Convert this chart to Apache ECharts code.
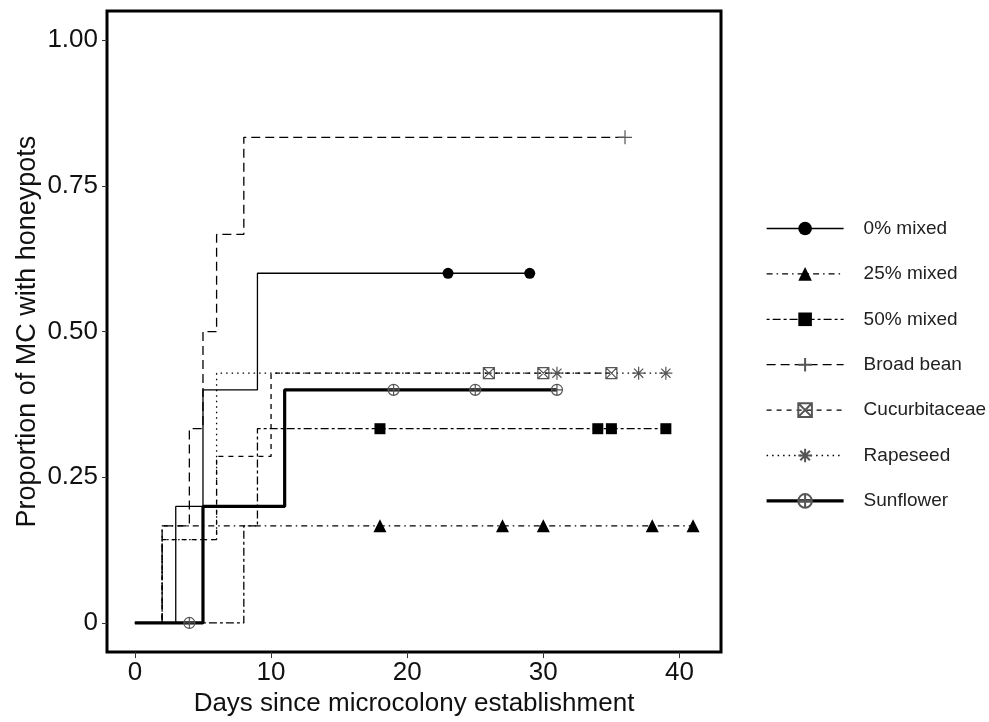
<!DOCTYPE html>
<html>
<head>
<meta charset="utf-8">
<script src="https://cdn.jsdelivr.net/npm/echarts@6/dist/echarts.min.js"></script>
<style>
  html, body { margin: 0; padding: 0; background: #fff; }
  #chartMain { width: 989px; height: 722px; }
</style>
</head>
<body>
<div id="chartMain"></div>
<script>
// step curves: day of each event and proportion after it, censor days
var groupNames = ['0% mixed', '25% mixed', '50% mixed', 'Broad bean', 'Cucurbitaceae', 'Rapeseed', 'Sunflower'];

var mix0Days = [0, 3, 5, 9, 29];
var mix0Prop = [0, 0.2, 0.4, 0.6, 0.6];
var mix0Cens = [23, 29];

var mix25Days = [0, 2, 41];
var mix25Prop = [0, 0.1667, 0.1667];
var mix25Cens = [18, 27, 30, 38, 41];

var mix50Days = [0, 8, 9, 39];
var mix50Prop = [0, 0.1667, 0.3333, 0.3333];
var mix50Cens = [18, 34, 35, 39];

var beanDays = [0, 2, 4, 5, 6, 8, 36];
var beanProp = [0, 0.1667, 0.3333, 0.5, 0.6667, 0.8333, 0.8333];
var beanCens = [36];

var cucDays = [0, 2, 6, 10, 35];
var cucProp = [0, 0.1429, 0.2857, 0.4286, 0.4286];
var cucCens = [26, 30, 35];

var rapeDays = [0, 2, 6, 39];
var rapeProp = [0, 0.1429, 0.4286, 0.4286];
var rapeCens = [31, 37, 39];

var sunDays = [0, 5, 11, 31];
var sunProp = [0, 0.2, 0.4, 0.4];
var sunCens = [4, 19, 25, 31];

var xTicks = [0, 10, 20, 30, 40];
var yTicks = [0, 0.25, 0.5, 0.75, 1];

var PLUS = 'path://M6,0 L6,12 M0,6 L12,6';
var BOXX = 'path://M0,0 L12,0 L12,12 L0,12 Z M0,0 L12,12 M12,0 L0,12';
var STAR = 'path://M6,0 L6,12 M0,6 L12,6 M1.76,1.76 L10.24,10.24 M10.24,1.76 L1.76,10.24';
var OPLUS = 'path://M0,6 A6,6 0 1,1 12,6 A6,6 0 1,1 0,6 Z M6,0 L6,12 M0,6 L12,6';

var NOFILL = 'rgba(0,0,0,0)';

var groups = [
  {days: mix0Days, prop: mix0Prop, cens: mix0Cens, width: 1.3, dash: 'solid',
   symbol: 'circle', size: 11, item: {color: '#000', opacity: 1}},
  {days: mix25Days, prop: mix25Prop, cens: mix25Cens, width: 1.3, dash: [6, 4, 1.5, 4],
   symbol: 'triangle', size: 13, item: {color: '#000', opacity: 1}},
  {days: mix50Days, prop: mix50Prop, cens: mix50Cens, width: 1.3, dash: [3, 3, 8, 3],
   symbol: 'rect', size: 11, item: {color: '#000', opacity: 1}},
  {days: beanDays, prop: beanProp, cens: beanCens, width: 1.3, dash: [9, 5],
   symbol: PLUS, size: 14, item: {color: NOFILL, borderColor: '#555', borderWidth: 1.2, opacity: 1}},
  {days: cucDays, prop: cucProp, cens: cucCens, width: 1.3, dash: [5, 5],
   symbol: BOXX, size: 11, item: {color: NOFILL, borderColor: '#555', borderWidth: 1.2, opacity: 1}},
  {days: rapeDays, prop: rapeProp, cens: rapeCens, width: 1.3, dash: [1.5, 4],
   symbol: STAR, size: 13, item: {color: NOFILL, borderColor: '#555', borderWidth: 1.2, opacity: 1}},
  {days: sunDays, prop: sunProp, cens: sunCens, width: 3.2, dash: 'solid',
   symbol: OPLUS, size: 11, item: {color: NOFILL, borderColor: '#555', borderWidth: 1.2, opacity: 1}}
];

// proportion of the step curve at day t
function levelAt(days, prop, t) {
  var v = prop[0];
  for (var i = 0; i < days.length; i++) {
    if (days[i] <= t) v = prop[i];
  }
  return v;
}

var series = [];
groups.forEach(function (g, i) {
  series.push({
    name: groupNames[i],
    type: 'line',
    step: 'end',
    showSymbol: false,
    symbol: g.symbol,
    symbolKeepAspect: true,
    itemStyle: g.item,
    lineStyle: {color: '#000', width: g.width, type: g.dash},
    z: i === 6 ? 3 : 2,
    data: g.days.map(function (d, k) { return [d, g.prop[k]]; })
  });
});
groups.forEach(function (g, i) {
  series.push({
    name: groupNames[i],
    type: 'scatter',
    symbol: g.symbol,
    symbolSize: g.size,
    symbolKeepAspect: true,
    itemStyle: g.item,
    z: 4,
    data: g.cens.map(function (d) { return [d, levelAt(g.days, g.prop, d)]; })
  });
});

var legendData = groupNames.map(function (n, i) {
  return {name: n, lineStyle: {width: groups[i].width, type: groups[i].dash, color: '#000'}};
});

var FONT = '"Liberation Sans", Arial, sans-serif';

var chart = echarts.init(document.getElementById('chartMain'));
chart.setOption({
  animation: false,
  backgroundColor: '#fff',
  textStyle: {fontFamily: FONT},
  grid: {
    left: 107, right: 268, top: 11, bottom: 67,
    show: true, borderColor: '#000', borderWidth: 3, backgroundColor: 'transparent'
  },
  legend: {
    orient: 'vertical',
    left: 765,
    top: 219,
    padding: 0,
    itemWidth: 77,
    itemHeight: 17,
    itemGap: 26.4,
    data: legendData,
    textStyle: {fontFamily: FONT, fontSize: 19, color: '#222', lineHeight: 17, padding: [0, 0, 0, 15]}
  },
  xAxis: {
    type: 'value',
    min: -2.05,
    max: 43.05,
    name: 'Days since microcolony establishment',
    nameLocation: 'middle',
    nameGap: 32,
    nameTextStyle: {fontFamily: FONT, fontSize: 26, color: '#111'},
    splitLine: {show: false},
    axisLine: {show: false, onZero: false},
    axisTick: {show: true, length: 6, customValues: xTicks, lineStyle: {color: '#333'}},
    axisLabel: {customValues: xTicks, fontSize: 26, color: '#111', margin: 8, fontFamily: FONT}
  },
  yAxis: {
    type: 'value',
    min: -0.05,
    max: 1.05,
    name: 'Proportion of MC with honeypots',
    nameLocation: 'middle',
    nameRotate: 90,
    nameGap: 66,
    nameMoveOverlap: false,
    nameTextStyle: {fontFamily: FONT, fontSize: 27, color: '#111'},
    splitLine: {show: false},
    axisLine: {show: false, onZero: false},
    axisTick: {show: true, length: 5, customValues: yTicks, lineStyle: {color: '#333'}},
    axisLabel: {
      customValues: yTicks, fontSize: 26, color: '#111', margin: 9, fontFamily: FONT,
      formatter: function (v) { return v === 0 ? '0' : v.toFixed(2); }
    }
  },
  series: series
});
</script>
</body>
</html>
